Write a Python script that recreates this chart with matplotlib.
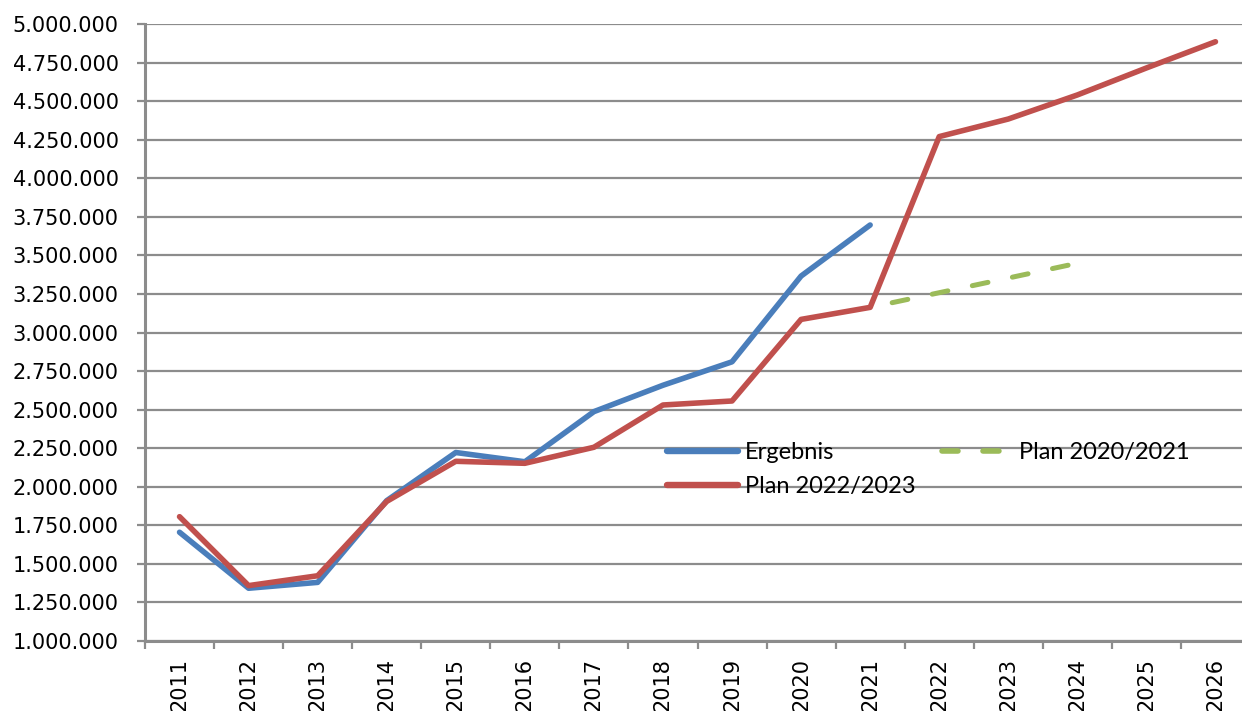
import matplotlib
matplotlib.use("Agg")
import matplotlib.pyplot as plt
from matplotlib.ticker import FixedLocator, FuncFormatter
from matplotlib.lines import Line2D
import numpy as np

years = [str(y) for y in range(2011, 2027)]
ergebnis = [1705000, 1342000, 1380000, 1910000, 2222000, 2162000, 2487000, 2658000,
            2810000, 3366000, 3697000]
plan_2022_2023 = [1806000, 1359000, 1423000, 1905000, 2165000, 2152000, 2256000, 2530000,
                  2556000, 3085000, 3163000, 4270000, 4384000, 4540000, 4715000, 4885000]
plan_2020_2021 = [3163000, 3258000, 3353000, 3449000]
plan_2020_2021_years = ["2021", "2022", "2023", "2024"]

plt.rcParams['lines.scale_dashes'] = False
plt.rcParams['font.family'] = ['DejaVu Sans']

W, H = 1242, 711
fig = plt.figure(figsize=(W / 100, H / 100), dpi=100)
left_px, right_px, top_px, bottom_px = 145, 1250, 24, 641
ax = fig.add_axes([left_px / W, 1 - bottom_px / H, (right_px - left_px) / W, (bottom_px - top_px) / H])

x_all = np.arange(len(years))
idx = {y: i for i, y in enumerate(years)}

blue, red, green = "#4A7EBB", "#C0504D", "#9BBB59"
ax.plot(x_all[:len(ergebnis)], ergebnis, color=blue, lw=4.0,
        solid_capstyle="round", solid_joinstyle="round", zorder=3)
ax.plot(x_all[:len(plan_2022_2023)], plan_2022_2023, color=red, lw=4.0,
        solid_capstyle="round", solid_joinstyle="round", zorder=3)
xg = [idx[y] for y in plan_2020_2021_years]
ax.plot(xg, plan_2020_2021, color=green, lw=3.6, linestyle=(13.3, (11.5, 18.0)),
        dash_capstyle="round", zorder=3)

ax.set_xlim(-0.5, len(years) - 0.5)
ax.set_ylim(1000000, 5000000)

grid_c = "#8C8C8C"
ax.set_yticks(np.arange(1000000, 5000001, 250000))
ax.yaxis.set_major_formatter(FuncFormatter(lambda v, p: f"{int(v):,}".replace(",", ".")))
ax.grid(axis="y", color=grid_c, lw=1.6, zorder=1)
ax.set_axisbelow(True)

ax.set_xticks(x_all)
ax.set_xticklabels(years, rotation=90)
ax.xaxis.set_minor_locator(FixedLocator(np.arange(-0.5, len(years), 1.0)))
ax.tick_params(axis="x", which="major", length=0, pad=12, labelsize=15, labelcolor="black")
ax.tick_params(axis="x", which="minor", length=6, width=1.6, color=grid_c)
ax.tick_params(axis="y", which="major", length=6, width=1.6, color=grid_c, pad=13,
               labelsize=15, labelcolor="black")

for s in ["top", "right"]:
    ax.spines[s].set_visible(False)
for s in ["left", "bottom"]:
    ax.spines[s].set_color(grid_c)
    ax.spines[s].set_linewidth(2.2)

handles = [
    Line2D([], [], color=blue, lw=4.6, solid_capstyle="round"),
    Line2D([], [], color=red, lw=4.6, solid_capstyle="round"),
    Line2D([], [], color=green, lw=4.0, linestyle=(0, (11.5, 18.0)), dash_capstyle="round"),
]
labels = ["Ergebnis", "Plan 2022/2023", "Plan 2020/2021"]
leg = ax.legend(handles, labels, ncol=2, frameon=False, loc="upper left",
                bbox_to_anchor=((667 - left_px) / (right_px - left_px), 1 - (442 - top_px) / (bottom_px - top_px)),
                prop={"family": "Lato", "size": 17}, handlelength=3.0, handletextpad=0.3,
                columnspacing=1.1, labelspacing=0.55, borderaxespad=0, borderpad=0)

fig.savefig("out.png", dpi=100)
